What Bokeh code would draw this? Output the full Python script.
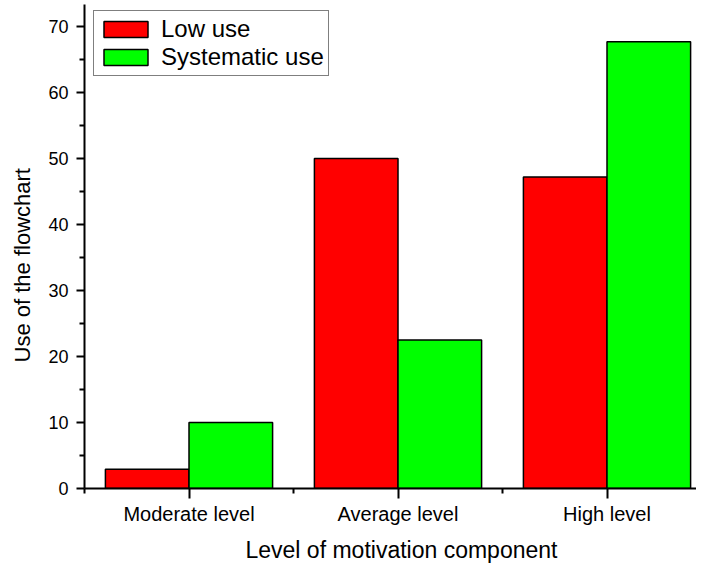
from bokeh.plotting import figure
from bokeh.models import Range1d, FixedTicker, Legend, LegendItem, Title
from bokeh.embed import file_html
from bokeh.resources import INLINE

categories = ["Moderate level", "Average level", "High level"]
low_use = [2.9, 50.0, 47.2]
systematic_use = [10.0, 22.5, 67.7]
y_ticks = [0, 10, 20, 30, 40, 50, 60, 70]
y_minor = [5, 15, 25, 35, 45, 55, 65]

FONT = "Liberation Sans"

idx = [i + 1 for i in range(len(categories))]

p = figure(width=696, height=569, output_backend="svg", toolbar_location=None,
           x_range=Range1d(0.5, 0.5 + 612 / 209), y_range=Range1d(0, 484 / 6.6),
           min_border_left=84, min_border_right=0, min_border_top=4, min_border_bottom=81)
p.outline_line_color = None
p.xgrid.visible = False
p.ygrid.visible = False
p.background_fill_color = "white"
p.border_fill_color = "white"

r_low = p.vbar(x=[i - 0.2 for i in idx], top=low_use, width=0.4, bottom=0,
               fill_color="#ff0000", line_color="black", line_width=1.5)
r_sys = p.vbar(x=[i + 0.2 for i in idx], top=systematic_use, width=0.4, bottom=0,
               fill_color="#00ff00", line_color="black", line_width=1.5)

xa = p.xaxis[0]
xa.ticker = FixedTicker(ticks=idx, minor_ticks=[0.5, 1.5, 2.5, 3.5])
xa.major_label_overrides = {i: c for i, c in zip(idx, categories)}
xa.major_tick_out = 10
xa.major_tick_in = 0
xa.minor_tick_out = 5
xa.minor_tick_in = 0
xa.axis_line_width = 2
xa.major_tick_line_width = 2
xa.minor_tick_line_width = 2
xa.major_label_text_font = FONT
xa.major_label_text_font_size = "20px"
xa.major_label_text_color = "black"
xa.major_label_standoff = 4

ya = p.yaxis[0]
ya.ticker = FixedTicker(ticks=y_ticks, minor_ticks=y_minor)
ya.major_tick_out = 8
ya.major_tick_in = 0
ya.minor_tick_out = 5
ya.minor_tick_in = 0
ya.axis_line_width = 2
ya.major_tick_line_width = 2
ya.minor_tick_line_width = 2
ya.major_label_text_font = FONT
ya.major_label_text_font_size = "18px"
ya.major_label_text_color = "black"
ya.major_label_standoff = 8

xtitle = Title(text="Level of motivation component", align="left", offset=161,
               standoff=14, vertical_align="bottom", text_font=FONT, text_font_size="23px",
               text_font_style="normal", text_color="black")
ytitle = Title(text="Use of the flowchart", align="left", offset=126,
               standoff=18, vertical_align="top", text_font=FONT, text_font_size="22px",
               text_font_style="normal", text_color="black")
p.add_layout(xtitle, "below")
p.add_layout(ytitle, "left")

legend = Legend(items=[LegendItem(label="Low use", renderers=[r_low]),
                       LegendItem(label="Systematic use", renderers=[r_sys])],
                location=(9, 412), orientation="vertical")
legend.label_text_font = FONT
legend.label_text_font_size = "24px"
legend.label_text_color = "black"
legend.glyph_width = 55
legend.glyph_height = 20
legend.label_height = 22
legend.label_standoff = 8
legend.spacing = 0
legend.padding = 4
legend.margin = 0
legend.border_line_color = "black"
legend.border_line_width = 1.5
legend.background_fill_alpha = 1
p.add_layout(legend)

open("out.html", "w").write(file_html(p, INLINE))
